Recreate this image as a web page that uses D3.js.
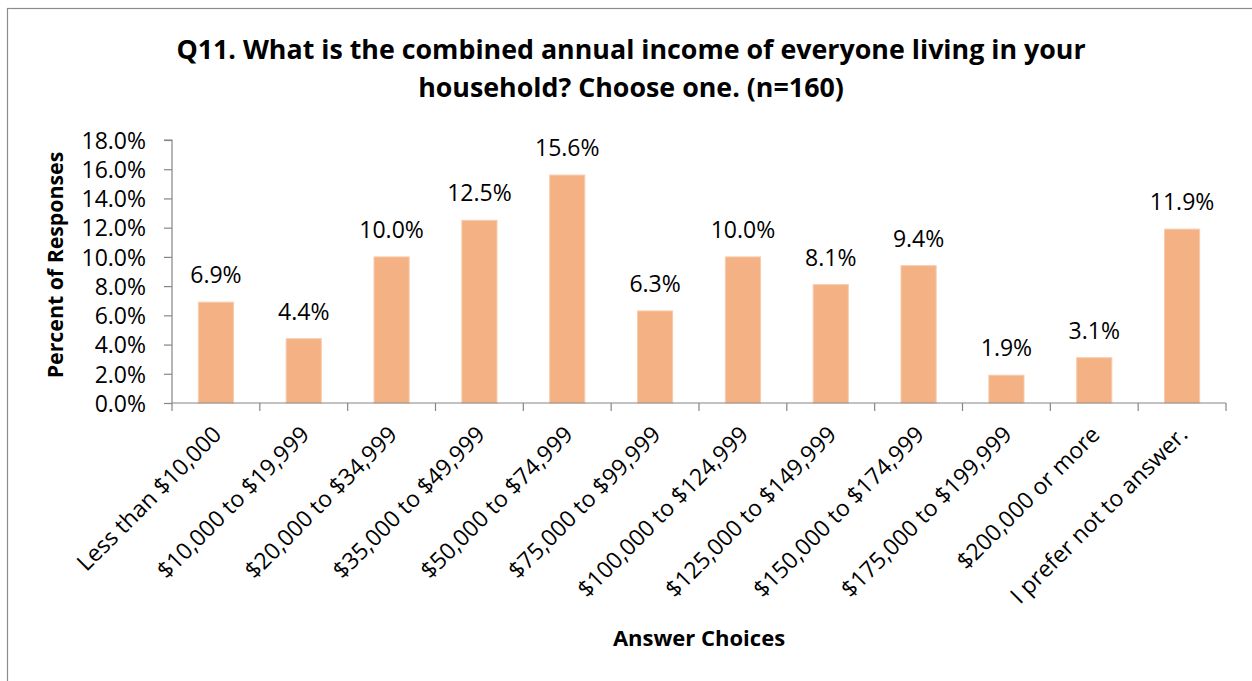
<!DOCTYPE html>
<html>
<head>
<meta charset="utf-8">
<script src="https://cdn.jsdelivr.net/npm/d3@7"></script>
<style>
  html, body { margin: 0; padding: 0; background: #fff; }
  svg { display: block; }
  text { font-family: "Open Sans", "Noto Sans", sans-serif; fill: #000; }
</style>
</head>
<body>
<svg id="chart" width="1252" height="681"></svg>
<script>
const categories = [
  "Less than $10,000", "$10,000 to $19,999", "$20,000 to $34,999",
  "$35,000 to $49,999", "$50,000 to $74,999", "$75,000 to $99,999",
  "$100,000 to $124,999", "$125,000 to $149,999", "$150,000 to $174,999",
  "$175,000 to $199,999", "$200,000 or more", "I prefer not to answer."
];
const values = [6.9, 4.4, 10.0, 12.5, 15.6, 6.3, 10.0, 8.1, 9.4, 1.9, 3.1, 11.9];
const yTicks = [0, 2, 4, 6, 8, 10, 12, 14, 16, 18];
const titleLines = [
  "Q11. What is the combined annual income of everyone living in your",
  "household? Choose one. (n=160)"
];
const xTitle = "Answer Choices";
const yTitle = "Percent of Responses";

const W = 1252, H = 681;
const m = { left: 172, right: 1226, top: 140, bottom: 403 };
const svg = d3.select("#chart");

// outer chart border
svg.append("rect")
  .attr("x", 7.5).attr("y", 8.5)
  .attr("width", 1300).attr("height", 700)
  .attr("fill", "#fff").attr("stroke", "#8c8c8c").attr("stroke-width", 1.2);

const x = d3.scaleBand().domain(categories).range([m.left, m.right])
  .paddingInner(0.6).paddingOuter(0.3);
const y = d3.scaleLinear().domain([0, 18]).range([m.bottom, m.top]);

// y axis
const yAxis = svg.append("g").attr("transform", `translate(${m.left},0)`)
  .call(d3.axisLeft(y).tickValues(yTicks).tickSize(8).tickPadding(18)
    .tickFormat(d => d.toFixed(1) + "%"));
yAxis.selectAll("path, line").attr("stroke", "#868686").attr("stroke-width", 1.2);
yAxis.select(".domain").attr("d", `M-8,${y(18)}H0V${y(0)}`);
yAxis.selectAll("text").attr("font-size", 23).attr("font-family", "'Open Sans'")
  .attr("fill", "#000").attr("dy", "0.36em");

// bars
svg.append("g").selectAll("rect").data(values).join("rect")
  .attr("x", (d, i) => x(categories[i]))
  .attr("y", d => y(d))
  .attr("width", x.bandwidth())
  .attr("height", d => y(0) - y(d))
  .attr("fill", "#F4B183")
  .attr("stroke", "#F8CBAD").attr("stroke-width", 1);

// data labels
svg.append("g").selectAll("text").data(values).join("text")
  .attr("x", (d, i) => x(categories[i]) + x.bandwidth() / 2)
  .attr("y", d => y(d) - 19)
  .attr("text-anchor", "middle")
  .attr("font-size", 23)
  .text(d => d.toFixed(1) + "%");

// x axis
const xAxisG = svg.append("g").attr("transform", `translate(0,${m.bottom})`);
xAxisG.append("line").attr("x1", m.left).attr("x2", m.right)
  .attr("stroke", "#868686").attr("stroke-width", 1.2);
const bounds = d3.range(categories.length + 1).map(i => m.left + i * (m.right - m.left) / categories.length);
xAxisG.selectAll("line.tick").data(bounds).join("line").attr("class", "tick")
  .attr("x1", d => d).attr("x2", d => d).attr("y1", 0).attr("y2", 8)
  .attr("stroke", "#868686").attr("stroke-width", 1.2);

// rotated category labels
svg.append("g").selectAll("text").data(categories).join("text")
  .attr("transform", d => `translate(${x(d) + x.bandwidth() / 2 + 7},${m.bottom + 33}) rotate(-45)`)
  .attr("text-anchor", "end")
  .attr("font-size", 23)
  .text(d => d);

// title
svg.append("g").selectAll("text").data(titleLines).join("text")
  .attr("x", 631).attr("y", (d, i) => 59 + i * 38)
  .attr("text-anchor", "middle")
  .attr("font-size", 26.8).attr("font-weight", "bold")
  .text(d => d);

// axis titles
svg.append("text").attr("x", 699).attr("y", 646)
  .attr("text-anchor", "middle").attr("font-size", 22).attr("font-weight", "bold")
  .text(xTitle);
svg.append("text")
  .attr("transform", `translate(63,265) rotate(-90)`)
  .attr("text-anchor", "middle").attr("font-size", 21.3).attr("font-weight", "bold")
  .text(yTitle);
</script>
</body>
</html>
